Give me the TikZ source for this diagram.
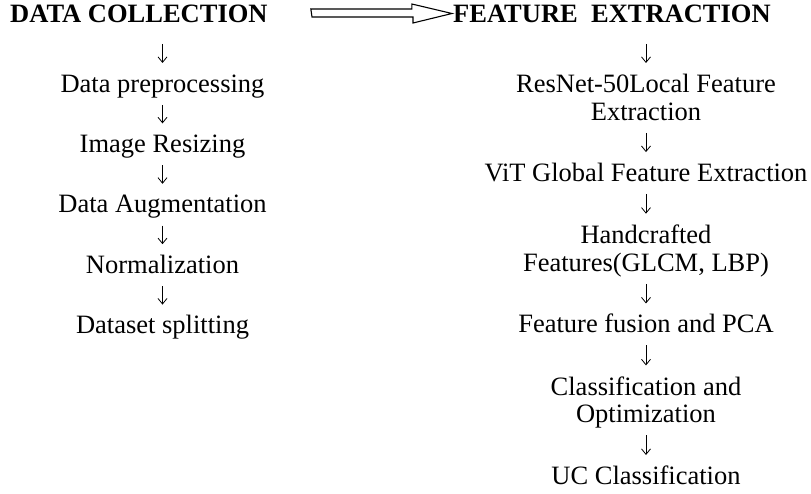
\documentclass[tikz,border=0pt]{standalone}
\usepackage{fontspec}
\setmainfont{Liberation Serif}
\usetikzlibrary{arrows.meta, calc}

\begin{document}
\begin{tikzpicture}[x=1pt, y=-1pt,
  every node/.style={font=\fontsize{26.5}{27.5}\selectfont, inner sep=0pt},
  hd/.style={font=\fontsize{26.5}{27.5}\selectfont\bfseries, anchor=base west, text depth=5.7pt},
  ln/.style={anchor=north, text height=18pt, text depth=5.7pt},
  ml/.style={anchor=north, align=center, text depth=5.7pt},
  dn/.style={-{Straight Barb[length=5.5pt, width=9pt]}, line width=0.8pt, shorten <=6.8pt, shorten >=11pt},
  hollow/.style={line width=1.1pt, line join=miter}]
\useasboundingbox (0,0) rectangle (811,494);
% left column
\node[hd] (dc) at (10,23) {DATA COLLECTION};
\node[ln] (dp) at (162.5,74)    {Data preprocessing};
\node[ln] (ir) at (162.5,134.4) {Image Resizing};
\node[ln] (da) at (162.5,194.8) {Data Augmentation};
\node[ln] (nm) at (162.5,255.2) {Normalization};
\node[ln] (ds) at (162.5,315.6) {Dataset splitting};
% right column
\node[hd] (fe) at (453,23) {FEATURE~~EXTRACTION};
\node[ml] (rn) at (646,74)    {ResNet-50Local Feature\\ Extraction};
\node[ln] (vt) at (646,163.1) {ViT Global Feature Extraction};
\node[ml] (hc) at (646,224.7) {Handcrafted\\ Features(GLCM, LBP)};
\node[ln] (ff) at (646,314.5) {Feature fusion and PCA};
\node[ml] (co) at (646,376.4) {Classification and\\ Optimization};
\node[ln] (uc) at (646,466) {UC Classification};
% hollow arrow between the headings
\draw[hollow] ($(dc.base east)+(43,-14)$) -- ++(101,0) -- ++(0,-5)
  -- ($(fe.base west)+(-1,-9.5)$) coordinate (tip)
  -- ++(-39,9.5) -- ++(0,-6) -- ++(-101,0) -- cycle;
% steps
\draw[dn, shorten <=15pt] (dc.south -| dp.north) -- (dp.north);
\draw[dn] (dp.south -| ir.north) -- (ir.north);
\draw[dn] (ir.south -| da.north) -- (da.north);
\draw[dn] (da.south -| nm.north) -- (nm.north);
\draw[dn] (nm.south -| ds.north) -- (ds.north);
\draw[dn, shorten <=15pt] (fe.south -| rn.north) -- (rn.north);
\draw[dn] (rn.south -| vt.north) -- (vt.north);
\draw[dn] (vt.south -| hc.north) -- (hc.north);
\draw[dn] (hc.south -| ff.north) -- (ff.north);
\draw[dn] (ff.south -| co.north) -- (co.north);
\draw[dn] (co.south -| uc.north) -- (uc.north);
\end{tikzpicture}
\end{document}
